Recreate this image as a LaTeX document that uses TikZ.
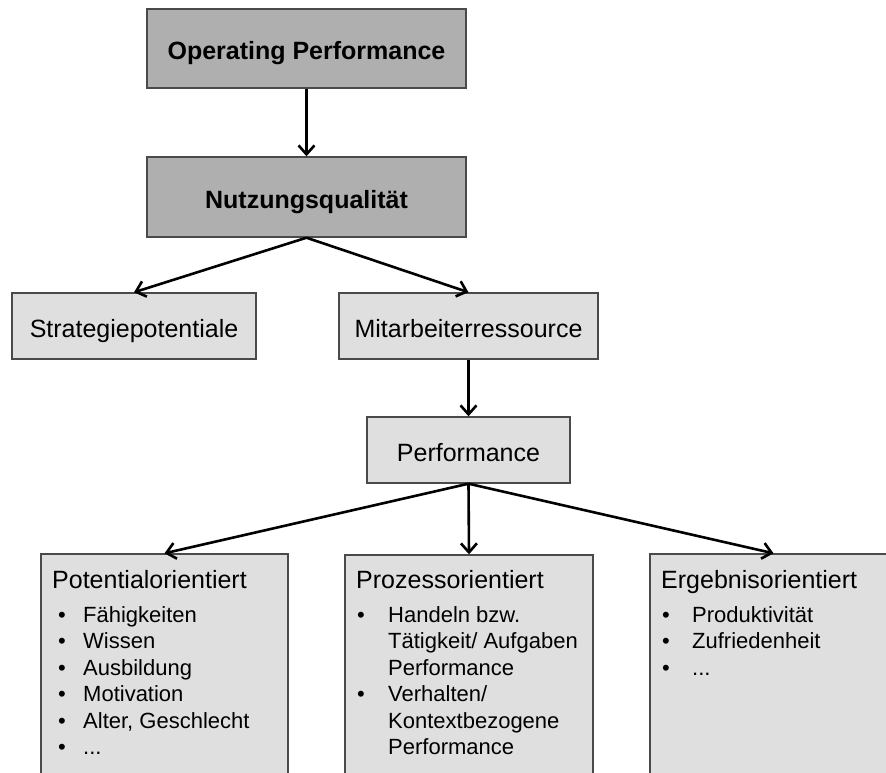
\documentclass[tikz,border=0pt]{standalone}
\usepackage{fontspec}
\setmainfont{Liberation Sans}
\usetikzlibrary{arrows.meta}
\definecolor{boxdark}{HTML}{AFAFAF}
\definecolor{boxlight}{HTML}{DFDFDF}
\definecolor{boxline}{HTML}{4A4A4A}
\begin{document}
\begin{tikzpicture}[x=1pt,y=-1pt,
  box/.style={draw=boxline, line width=1.4pt, inner sep=0pt,
    text height=22pt, text depth=0pt, font=\fontsize{25}{30}\selectfont},
  darkbox/.style={box, fill=boxdark, font=\fontsize{25}{30}\selectfont\bfseries},
  lightbox/.style={box, fill=boxlight},
  link/.style={line width=2.6pt, -{Straight Barb[length=9pt,width=16pt]}},
  head/.style={anchor=base west, inner sep=0pt, font=\fontsize{25}{30}\selectfont},
  item/.style={anchor=base west, inner sep=0pt, font=\fontsize{22}{26}\selectfont},
  bul/.style={anchor=base, inner sep=0pt, font=\fontsize{22}{26}\selectfont},
]
\useasboundingbox (0,0) rectangle (886,772);
\clip (0,0) rectangle (886,772);

% upper levels
\node[darkbox, minimum width=319pt, minimum height=79pt] (op) at (306.5,48.5) {Operating Performance};
\node[darkbox, minimum width=319pt, minimum height=80pt] (nq) at (306.5,197) {Nutzungsqualität};
\node[lightbox, minimum width=244pt, minimum height=66pt] (sp) at (134,326) {Strategiepotentiale};
\node[lightbox, minimum width=259pt, minimum height=66pt] (mr) at (468.5,326) {Mitarbeiterressource};
\node[lightbox, minimum width=203pt, minimum height=66pt] (pf) at (468.5,450) {Performance};

% lower level: tall boxes running off the bottom edge
\node[lightbox, minimum width=247pt, minimum height=260pt] (pot) at (164.5,684) {};
\node[lightbox, minimum width=248pt, minimum height=260pt] (proz) at (469,685) {};
\node[lightbox, minimum width=247pt, minimum height=260pt] (erg) at (773.5,684) {};

% Potentialorientiert
\node[head] (potT) at (52,588) {Potentialorientiert};
\node[bul] (potB1) at (62,622) {•};    \node[item] (potI1) at (83,622) {Fähigkeiten};
\node[bul] (potB2) at (62,648.5) {•};  \node[item] (potI2) at (83,648.5) {Wissen};
\node[bul] (potB3) at (62,675) {•};    \node[item] (potI3) at (83,675) {Ausbildung};
\node[bul] (potB4) at (62,701.5) {•};  \node[item] (potI4) at (83,701.5) {Motivation};
\node[bul] (potB5) at (62,728) {•};    \node[item] (potI5) at (83,728) {Alter, Geschlecht};
\node[bul] (potB6) at (62,754.5) {•};  \node[item] (potI6) at (83,754.5) {...};

% Prozessorientiert
\node[head] (prozT) at (356,588) {Prozessorientiert};
\node[bul] (prozB1) at (361,622) {•};  \node[item] (prozI1) at (388,622) {Handeln bzw.};
\node[item] (prozI2) at (388,648.5) {Tätigkeit/ Aufgaben};
\node[item] (prozI3) at (388,675) {Performance};
\node[bul] (prozB2) at (361,701.5) {•}; \node[item] (prozI4) at (388,701.5) {Verhalten/};
\node[item] (prozI5) at (388,728) {Kontextbezogene};
\node[item] (prozI6) at (388,754.5) {Performance};

% Ergebnisorientiert
\node[head] (ergT) at (661,588) {Ergebnisorientiert};
\node[bul] (ergB1) at (666,622) {•};   \node[item] (ergI1) at (692,622) {Produktivität};
\node[bul] (ergB2) at (666,648.5) {•}; \node[item] (ergI2) at (692,648.5) {Zufriedenheit};
\node[bul] (ergB3) at (666,675) {•};   \node[item] (ergI3) at (692,675) {...};

% connectors
\draw[link] (op.south) -- (nq.north);
\draw[link] (nq.south) -- (sp.north);
\draw[link] (nq.south) -- (mr.north);
\draw[link] (mr.south) -- (pf.north);
\draw[link] (pf.south) -- (pot.north);
\draw[link] (pf.south) -- (proz.north);
\draw[link] (pf.south) -- (erg.north);
\end{tikzpicture}
\end{document}
